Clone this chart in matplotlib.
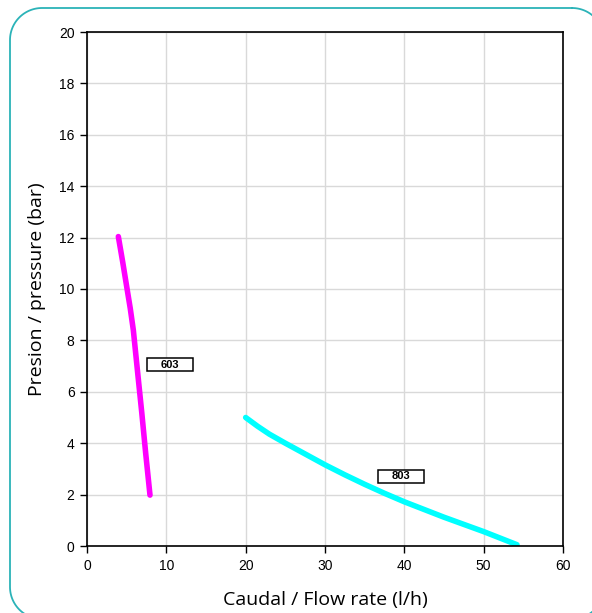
import matplotlib
matplotlib.use("Agg")
import matplotlib.pyplot as plt
import numpy as np
from matplotlib.patches import Rectangle

# pump curves
flow_603 = [3.95, 4.5, 5.0, 5.45, 5.84, 6.4, 6.9, 7.4, 7.94]
pres_603 = [12.04, 11.05, 10.1, 9.25, 8.4, 6.7, 5.2, 3.6, 1.98]

flow_803 = [20, 21.5, 23, 25, 27.5, 30, 32.5, 35, 37.5, 40, 45, 50, 54.2]
pres_803 = [5.0, 4.66, 4.35, 4.0, 3.58, 3.16, 2.77, 2.4, 2.05, 1.72, 1.12, 0.56, 0.05]

labels = ["603", "803"]
label_pos = [(10.5, 7.05), (39.6, 2.72)]

W, H = 592, 613


def rounded_rect(x0, y0, x1, y1, r):
    # outline of a rounded rectangle (y grows downwards)
    xs, ys = [], []
    corners = [(x1 - r, y0 + r, -90, 0), (x1 - r, y1 - r, 0, 90),
               (x0 + r, y1 - r, 90, 180), (x0 + r, y0 + r, 180, 270)]
    for cx, cy, a0, a1 in corners:
        t = np.radians(np.linspace(a0, a1, 30))
        xs.extend(cx + r * np.cos(t))
        ys.extend(cy + r * np.sin(t))
    xs.append(xs[0])
    ys.append(ys[0])
    return xs, ys


fig = plt.figure(figsize=(W / 100, H / 100), dpi=100)

# rounded frame around the whole chart, drawn in pixel units
bg = fig.add_axes([0, 0, 1, 1])
bg.set_xlim(0, W)
bg.set_ylim(H, 0)
bg.axis("off")
fx, fy = rounded_rect(10, 8, 604, 619, 32)
bg.plot(fx, fy, color="#2bb3b8", lw=1.3)

ax = fig.add_axes([87 / W, 1 - 546 / H, (563 - 87) / W, (546 - 32) / H])

ax.plot(flow_603, pres_603, color="#ff00ff", lw=4, solid_capstyle="round")
ax.plot(flow_803, pres_803, color="#00ffff", lw=4, solid_capstyle="round")

bw, bh = 5.8, 0.5
for txt, (x, y) in zip(labels, label_pos):
    ax.add_patch(Rectangle((x - bw / 2, y - bh / 2), bw, bh,
                           fc="white", ec="black", lw=1.1, zorder=3))
    ax.text(x, y, txt, fontsize=8, fontweight="bold", family="Liberation Sans",
            ha="center", va="center", zorder=4)

ax.set_xlim(0, 60)
ax.set_ylim(0, 20)
ax.set_xticks(range(0, 61, 10))
ax.set_yticks(range(0, 21, 2))
ax.grid(True, color="#d9d9d9", lw=1)
ax.set_axisbelow(True)
for s in ax.spines.values():
    s.set_color("black")
    s.set_linewidth(1.2)
ax.tick_params(direction="out", length=5, width=1, labelsize=10, pad=4)
for t in ax.get_xticklabels() + ax.get_yticklabels():
    t.set_family("Liberation Sans")

ax.set_xlabel("Caudal / Flow rate (l/h)", fontsize=14, family="Open Sans", labelpad=13)
ax.set_ylabel("Presion / pressure (bar)", fontsize=14, family="Open Sans", labelpad=9)

fig.savefig("out.png", dpi=100)
